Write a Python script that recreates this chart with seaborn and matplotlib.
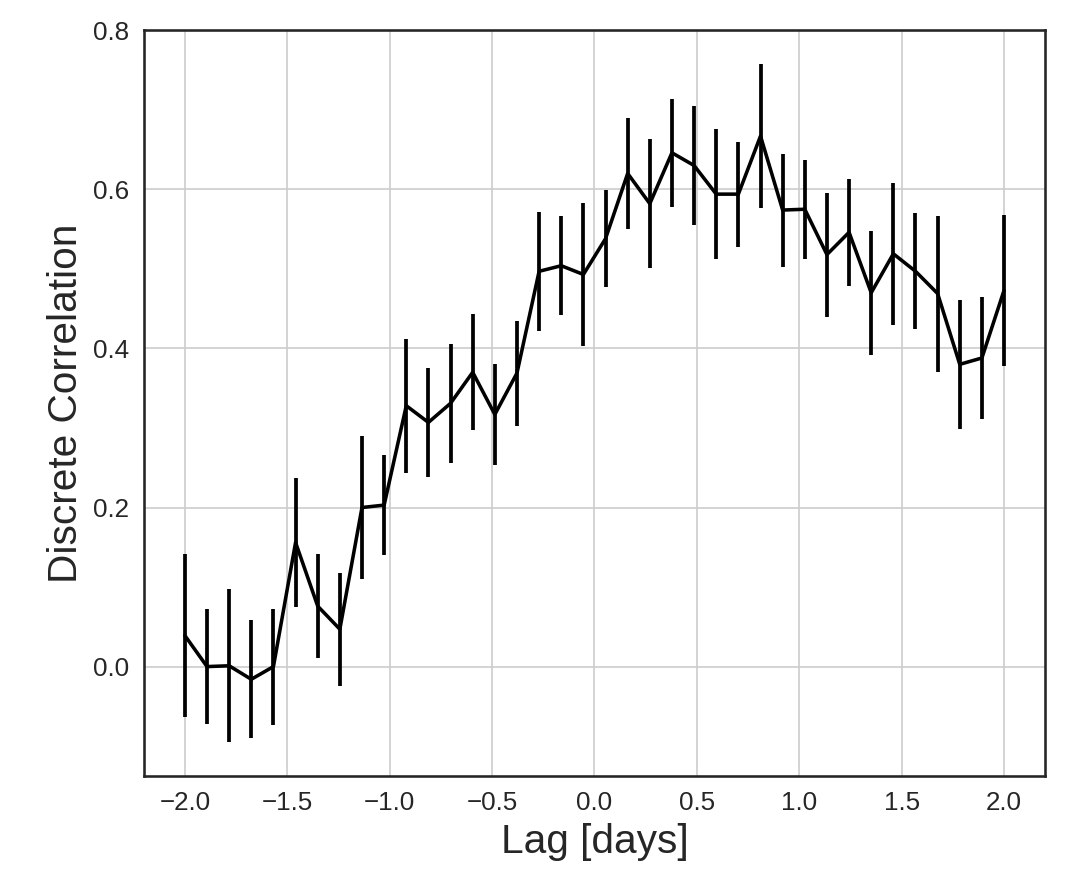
import numpy as np
import pandas as pd
import matplotlib
matplotlib.use('Agg')
import matplotlib.pyplot as plt
import seaborn as sns

# lag grid of the discrete correlation function, 38 bins from -2 to 2 days
lag = np.linspace(-2.0, 2.0, 38)

dcf = [0.039, 0.000, 0.001, -0.016, 0.000, 0.156, 0.076, 0.047, 0.200, 0.203,
       0.328, 0.307, 0.331, 0.370, 0.317, 0.369, 0.497, 0.504, 0.493, 0.538,
       0.620, 0.582, 0.646, 0.630, 0.594, 0.594, 0.667, 0.574, 0.575, 0.518,
       0.546, 0.470, 0.519, 0.497, 0.469, 0.380, 0.388, 0.473]

dcf_err = [0.103, 0.072, 0.096, 0.074, 0.073, 0.081, 0.065, 0.071, 0.090, 0.063,
           0.084, 0.069, 0.075, 0.073, 0.063, 0.066, 0.075, 0.062, 0.090, 0.061,
           0.070, 0.081, 0.068, 0.075, 0.082, 0.066, 0.091, 0.071, 0.062, 0.078,
           0.067, 0.078, 0.089, 0.073, 0.098, 0.081, 0.077, 0.095]

df = pd.DataFrame({'lag': lag, 'dcf': dcf, 'err': dcf_err})

sns.set_style('white', {'axes.grid': True, 'grid.color': '.8',
                        'axes.edgecolor': '.15'})
plt.rcParams['font.family'] = ['Liberation Sans', 'DejaVu Sans']

fig, ax = plt.subplots(figsize=(7.16, 5.94), dpi=150)
fig.subplots_adjust(left=0.134, right=0.973, top=0.966, bottom=0.129)

sns.lineplot(data=df, x='lag', y='dcf', color='black', linewidth=1.7, ax=ax)
ax.errorbar(df['lag'], df['dcf'], yerr=df['err'], fmt='none',
            ecolor='black', elinewidth=1.8, capsize=0)

ax.set_ylim(top=0.8)
ax.set_xlabel('Lag [days]', fontsize=19.5, color='.15')
ax.set_ylabel('Discrete Correlation', fontsize=19.5, color='.15')
ax.tick_params(labelsize=12.5, colors='.15')
for s in ax.spines.values():
    s.set_linewidth(1.25)

plt.savefig('out.png', dpi=150)
